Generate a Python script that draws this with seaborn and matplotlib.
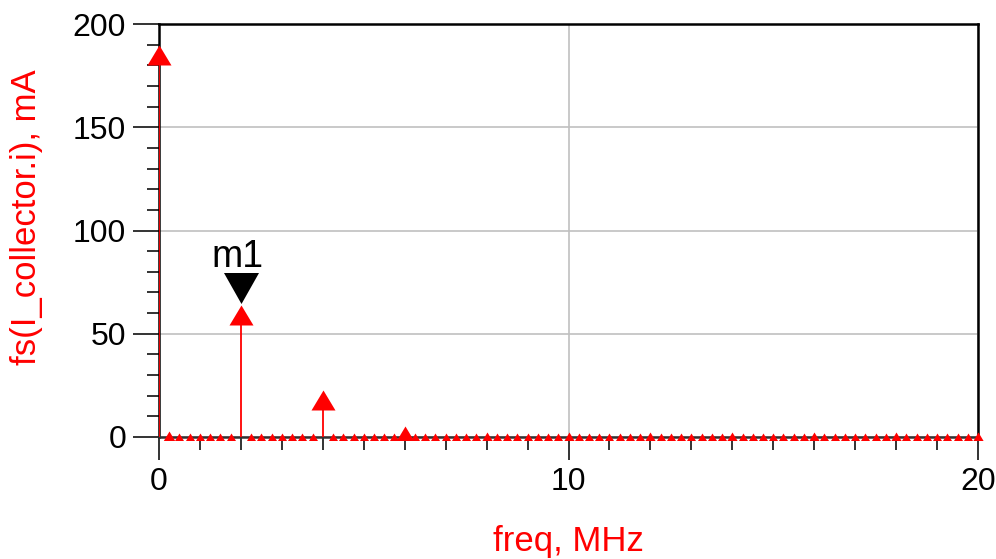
import matplotlib
matplotlib.use("Agg")
import matplotlib.pyplot as plt
import seaborn as sns
import numpy as np
import pandas as pd
from matplotlib.transforms import Bbox, TransformedBbox, offset_copy
from matplotlib.ticker import MultipleLocator

# ---- data ----
freq_mhz = [0.0, 0.25, 0.5, 0.75, 1.0, 1.25, 1.5, 1.75,
            2.0, 2.25, 2.5, 2.75, 3.0, 3.25, 3.5, 3.75,
            4.0, 4.25, 4.5, 4.75, 5.0, 5.25, 5.5, 5.75,
            6.0, 6.25, 6.5, 6.75, 7.0, 7.25, 7.5, 7.75,
            8.0, 8.25, 8.5, 8.75, 9.0, 9.25, 9.5, 9.75,
            10.0, 10.25, 10.5, 10.75, 11.0, 11.25, 11.5, 11.75,
            12.0, 12.25, 12.5, 12.75, 13.0, 13.25, 13.5, 13.75,
            14.0, 14.25, 14.5, 14.75, 15.0, 15.25, 15.5, 15.75,
            16.0, 16.25, 16.5, 16.75, 17.0, 17.25, 17.5, 17.75,
            18.0, 18.25, 18.5, 18.75, 19.0, 19.25, 19.5, 19.75,
            20.0]
i_collector_ma = [185.0, -2.0, -3.0, -3.0, -3.0, -3.0, -3.0, -3.0,
                  59.0, -3.0, -3.0, -3.0, -3.0, -3.0, -3.0, -3.0,
                  18.0, -3.0, -3.0, -3.0, -3.0, -3.0, -3.0, -3.0,
                  0.6, -3.0, -3.0, -3.0, -3.0, -3.0, -3.0, -3.0,
                  -2.2, -3.0, -3.0, -3.0, -3.0, -3.0, -3.0, -3.0,
                  -2.2, -3.0, -3.0, -3.0, -3.0, -3.0, -3.0, -3.0,
                  -2.4, -3.0, -3.0, -3.0, -3.0, -3.0, -3.0, -3.0,
                  -2.6, -3.0, -3.0, -3.0, -3.0, -3.0, -3.0, -3.0,
                  -2.6, -3.0, -3.0, -3.0, -3.0, -3.0, -3.0, -3.0,
                  -2.4, -3.0, -3.0, -3.0, -3.0, -3.0, -3.0, -3.0,
                  -2.4]
marker_name = "m1"
marker_freq = 2.0
x_ticks = [0, 10, 20]
y_ticks = [0, 50, 100, 150, 200]
x_label = "freq, MHz"
y_label = "fs(I_collector.i), mA"

df = pd.DataFrame({"freq": freq_mhz, "current": i_collector_ma})

# ---- style ----
sns.set_theme(style="white")
plt.rcParams["font.family"] = ["Liberation Sans", "DejaVu Sans"]

fig = plt.figure(figsize=(9.96, 5.59), dpi=100)
W, H = 996, 559
x0, x1, y0, y1 = 159, 978, 24, 437
ax = fig.add_axes([x0 / W, 1 - y1 / H, (x1 - x0) / W, (y1 - y0) / H])

# stems (drawn above the axis frame, as in the reference)
ax.vlines(df["freq"], 0, df["current"].clip(lower=0), colors="#ff0000",
          linewidth=1.3, zorder=3.5)

# triangle markers (24 px wide, 20 px tall)
tri = [(0, 10), (-12, -10), (12, -10), (0, 10)]
ms_pt = 24 * 72 / 100
sns.scatterplot(data=df, x="freq", y="current", marker=tri, s=ms_pt ** 2,
                color="#ff0000", linewidth=0, ax=ax, zorder=4, legend=False)
coll = ax.collections[-1]
coll.set_clip_box(TransformedBbox(Bbox([[-0.05, -2.5 / (y1 - y0)], [1.05, 1.0]]),
                                  ax.transAxes))

ax.set_xlim(0, 20)
ax.set_ylim(0, 200)

# marker m1
m_val = df.loc[df["freq"] == marker_freq, "current"].iloc[0]
black_tri = [(0, -15.5), (-17.5, 15.5), (17.5, 15.5), (0, -15.5)]
trans_up = offset_copy(ax.transData, fig=fig, x=0, y=27.5 * 72 / 100, units="points")
ax.plot([marker_freq], [m_val], marker=black_tri, markersize=35 * 72 / 100,
        color="black", markeredgewidth=0, linestyle="none", transform=trans_up,
        zorder=5, clip_on=False)
ax.annotate(marker_name, xy=(marker_freq, m_val), xytext=(-3 * 0.72, 48 * 0.72),
            textcoords="offset points", ha="center", va="baseline",
            fontsize=27, color="black", zorder=6)

# ticks
ax.set_xticks(x_ticks)
ax.set_yticks(y_ticks)
ax.xaxis.set_minor_locator(MultipleLocator(1))
ax.yaxis.set_minor_locator(MultipleLocator(10))
ax.tick_params(axis="x", which="major", direction="out", length=23 * 0.72,
               width=1.4, color="#333333", labelsize=23, labelcolor="black",
               pad=5, bottom=True)
ax.tick_params(axis="x", which="minor", direction="out", length=13 * 0.72,
               width=1.4, color="#333333", bottom=True)
ax.tick_params(axis="y", which="major", direction="out", length=26 * 0.72,
               width=1.4, color="#333333", labelsize=23, labelcolor="black",
               pad=5, left=True)
ax.tick_params(axis="y", which="minor", direction="out", length=12 * 0.72,
               width=1.4, color="#333333", left=True)

# grid
ax.grid(True, which="major", color="#c0c0c0", linewidth=1.2)
ax.set_axisbelow(True)

for side in ["top", "right", "left"]:
    ax.spines[side].set_color("black")
    ax.spines[side].set_linewidth(1.8)
ax.spines["bottom"].set_color("#333333")
ax.spines["bottom"].set_linewidth(1.8)
for sp in ax.spines.values():
    sp.set_zorder(3)

ax.set_xlabel(x_label, color="#ff0000", fontsize=25)
ax.set_ylabel(y_label, color="#ff0000", fontsize=25)
ax.xaxis.label.set_va("baseline")
ax.yaxis.label.set_va("baseline")
ax.xaxis.set_label_coords(0.5, (y1 - 551) / (y1 - y0))
ax.yaxis.set_label_coords((36 - x0) / (x1 - x0), 0.533)

fig.savefig("out.png", dpi=100)
